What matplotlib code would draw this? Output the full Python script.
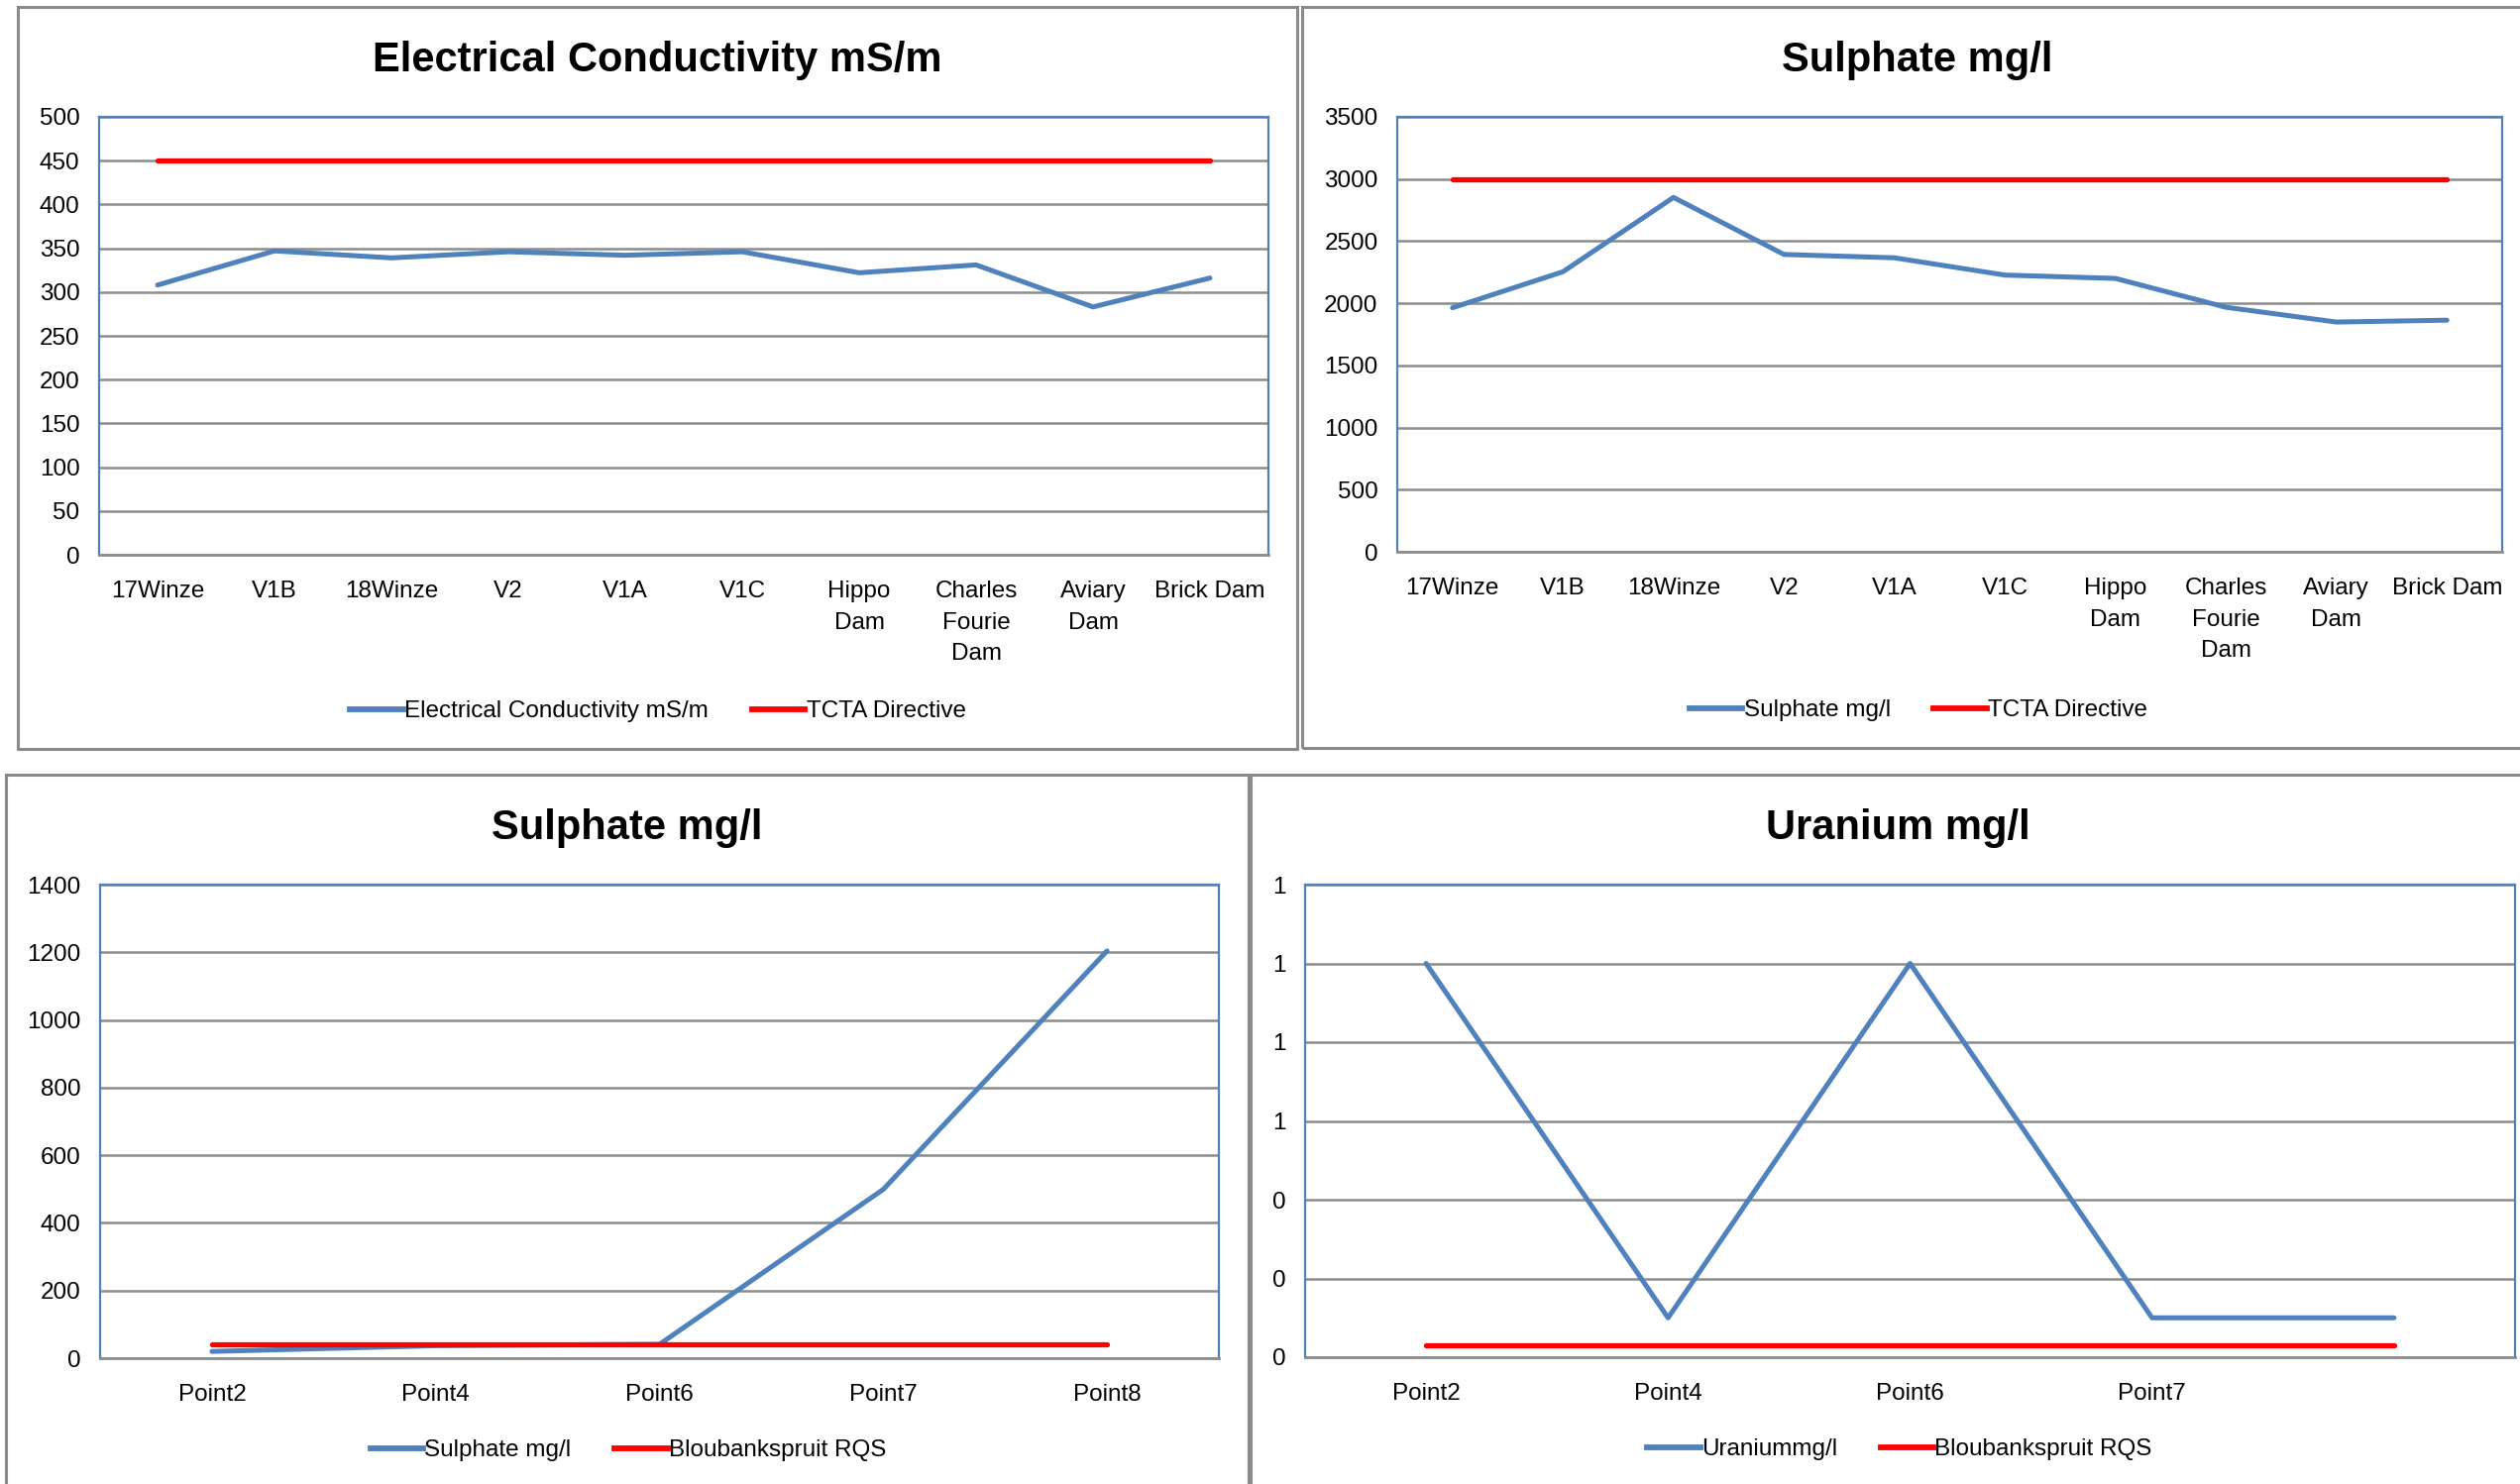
import matplotlib
matplotlib.use("Agg")
import matplotlib.pyplot as plt
from matplotlib.patches import Rectangle
from matplotlib.lines import Line2D
from matplotlib.ticker import FuncFormatter

plt.rcParams['font.family'] = ['Liberation Sans Narrow', 'Liberation Sans', 'DejaVu Sans']

# ---- data ----
sites = ["17Winze", "V1B", "18Winze", "V2", "V1A", "V1C",
         "Hippo\nDam", "Charles\nFourie\nDam", "Aviary\nDam", "Brick Dam"]
ec_values = [308, 347, 339, 346, 342, 346, 322, 331, 283, 316]
ec_limit = [450] * 10

so4_sites = [1964, 2254, 2852, 2393, 2366, 2227, 2200, 1968, 1849, 1864]
so4_limit = [3000] * 10

points = ["Point2", "Point4", "Point6", "Point7", "Point8"]
so4_points = [20, 37, 41, 499, 1204]
so4_rqs = [40] * 5

u_points = ["Point2", "Point4", "Point6", "Point7", ""]
u_values = [1.0, 0.1, 1.0, 0.1, 0.1]
u_rqs = [0.03] * 5

W, H = 2543, 1498
fig = plt.figure(figsize=(W / 100, H / 100), dpi=100)
fig.patch.set_facecolor("white")

BLUE = "#4F81BD"
RED = "#FF0000"
GRID = "#8C8C8C"


def frac_box(x0, y0, x1, y1):
    return [x0 / W, 1 - y1 / H, (x1 - x0) / W, (y1 - y0) / H]


def panel_border(x0, y0, x1, y1):
    fig.patches.append(Rectangle((x0 / W, 1 - y1 / H), (x1 - x0) / W, (y1 - y0) / H,
                                 transform=fig.transFigure, fill=False,
                                 edgecolor="#8A8A8A", linewidth=2.2, zorder=0))


def make_chart(box, cats, series, limit, series_name, limit_name, ylim, yticks,
               title, title_xy, legend_xy, fmt=None):
    ax = fig.add_axes(frac_box(*box))
    x = list(range(len(cats)))
    ax.set_xlim(-0.5, len(cats) - 0.5)
    ax.set_ylim(*ylim)
    ax.set_yticks(yticks)
    if fmt is not None:
        ax.yaxis.set_major_formatter(FuncFormatter(fmt))
    ax.set_xticks(x)
    ax.set_xticklabels(cats, linespacing=1.55)
    ax.grid(axis="y", color=GRID, linewidth=1.8, zorder=1)
    ax.set_axisbelow(True)
    for s in ("left", "right", "top"):
        ax.spines[s].set_color(BLUE)
        ax.spines[s].set_linewidth(1.6)
    ax.spines["bottom"].set_color(GRID)
    ax.spines["bottom"].set_linewidth(2.0)
    ax.tick_params(axis="both", length=0, labelsize=17.5, colors="black")
    ax.tick_params(axis="y", pad=14)
    ax.tick_params(axis="x", pad=19)
    for lbl in ax.get_xticklabels():
        lbl.set_verticalalignment("top")
    ax.plot(x, series, color=BLUE, linewidth=3.6, solid_capstyle="round", zorder=3)
    ax.plot(x, limit, color=RED, linewidth=3.8, solid_capstyle="round", zorder=4)
    fig.text(title_xy[0] / W, 1 - title_xy[1] / H, title, ha="center", va="center",
             fontsize=30, fontweight="bold")
    handles = [Line2D([], [], color=BLUE, linewidth=4.2),
               Line2D([], [], color=RED, linewidth=4.2)]
    fig.legend(handles, [series_name, limit_name], loc="center",
               bbox_to_anchor=(legend_xy[0] / W, 1 - legend_xy[1] / H),
               ncol=2, frameon=False, fontsize=17.5, handlelength=2.2,
               handletextpad=0.05, columnspacing=1.8)
    return ax


panel_border(18, 7, 1309, 756)
panel_border(1314, 7, 2560, 755)
panel_border(6, 782, 1260, 1520)
panel_border(1262, 782, 2560, 1520)

make_chart((100, 118, 1280, 560), sites, ec_values, ec_limit,
           "Electrical Conductivity mS/m", "TCTA Directive",
           (0, 500), list(range(0, 501, 50)),
           "Electrical Conductivity mS/m", (663, 61), (664, 718))

make_chart((1410, 118, 2525, 557), sites, so4_sites, so4_limit,
           "Sulphate mg/l", "TCTA Directive",
           (0, 3500), list(range(0, 3501, 500)),
           "Sulphate mg/l", (1935, 61), (1936, 717))

make_chart((101, 893, 1230, 1371), points, so4_points, so4_rqs,
           "Sulphate mg/l", "Bloubankspruit RQS",
           (0, 1400), list(range(0, 1401, 200)),
           "Sulphate mg/l", (633, 836), (634, 1464))

make_chart((1317, 893, 2538, 1370), u_points, u_values, u_rqs,
           "Uraniummg/l", "Bloubankspruit RQS",
           (0, 1.2), [0, 0.2, 0.4, 0.6, 0.8, 1.0, 1.2],
           "Uranium mg/l", (1915, 836), (1917, 1463),
           fmt=lambda v, p: f"{v:.0f}")

fig.savefig("out.png", dpi=100, facecolor="white")
